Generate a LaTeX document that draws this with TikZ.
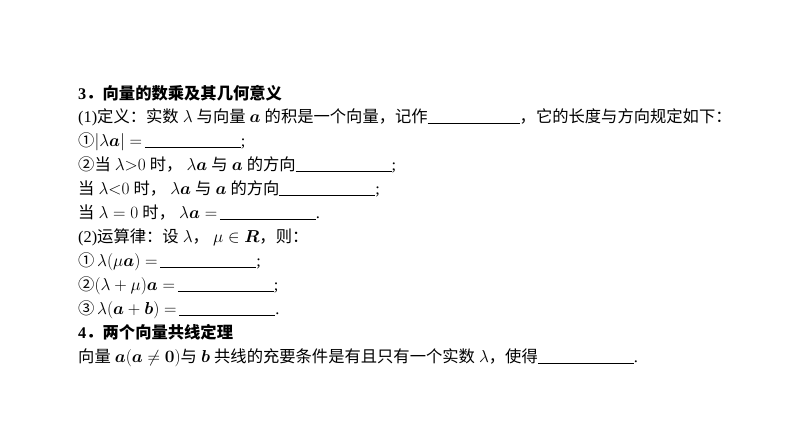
\documentclass[tikz,border=0pt]{standalone}
\usepackage{amsmath,amssymb,bm}
\usepackage{fontspec}
\setmainfont{Liberation Serif}
\newfontfamily\cjk{Noto Sans CJK SC}
\newcommand\C[1]{{\cjk #1}}
\newcommand\blank[1]{\rule[-2pt]{#1pt}{0.7pt}}
\newcommand\va{\bm{a}}
\begin{document}
\begin{tikzpicture}[x=1pt,y=-1pt,
  ln/.style={anchor=base west,inner sep=0pt,font=\fontsize{16.3}{19}\selectfont}]
\useasboundingbox (0,0) rectangle (794,447);
\node[ln] (l1) at (78,99) {\textbf{3}\C{\textbf{．向量的数乘及其几何意义}}};
\node[ln] (l2) at (78,122) {(1)\C{定义：实数}~$\lambda$~\C{与向量}~$\va$~\C{的积是一个向量，记作}\blank{92}\C{，它的长度与方向规定如下：}};
\node[ln] (l3) at (78,146) {\C{①}$|\lambda\va|=$\,\blank{96};};
\node[ln] (l4) at (78,170) {\C{②当}~$\lambda{>}0$~\C{时，}~$\lambda\va$~\C{与}~$\va$~\C{的方向}\blank{96};};
\node[ln] (l5) at (78,194) {\C{当}~$\lambda{<}0$~\C{时，}~$\lambda\va$~\C{与}~$\va$~\C{的方向}\blank{96};};
\node[ln] (l6) at (78,218) {\C{当}~$\lambda=0$~\C{时，}~$\lambda\va=$\,\blank{96}.};
\node[ln] (l7) at (78,242) {(2)\C{运算律：设}~$\lambda$\C{，}~$\mu\in\bm{R}$\C{，则：}};
\node[ln] (l8) at (78,266) {\C{①}\,$\lambda(\mu\va)=$\,\blank{96};};
\node[ln] (l9) at (78,290) {\C{②}$(\lambda+\mu)\va=$\,\blank{96};};
\node[ln] (l10) at (78,314) {\C{③}\,$\lambda(\va+\bm{b})=$\,\blank{96}.};
\node[ln] (l11) at (78,338) {\textbf{4}\C{\textbf{．两个向量共线定理}}};
\node[ln] (l12) at (78,362) {\C{向量}~$\va(\va\neq\bm{0})$\C{与}~$\bm{b}$~\C{共线的充要条件是有且只有一个实数}~$\lambda$\C{，使得}\blank{96}.};
\end{tikzpicture}
\end{document}
